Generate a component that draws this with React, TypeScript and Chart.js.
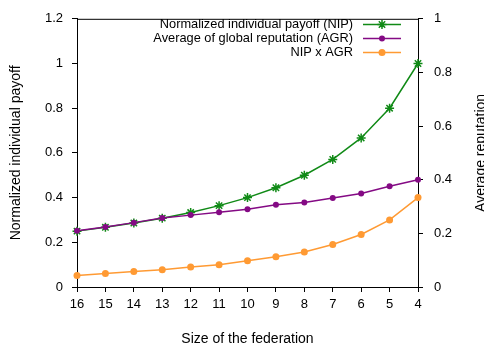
import React, { useEffect, useRef } from "react";
import { Chart, registerables } from "chart.js";

Chart.register(...registerables);

const categories = ["16", "15", "14", "13", "12", "11", "10", "9", "8", "7", "6", "5", "4"];
const nip = [0.25, 0.267, 0.286, 0.308, 0.333, 0.364, 0.4, 0.444, 0.5, 0.571, 0.667, 0.8, 1.0];
const agr = [0.21, 0.224, 0.24, 0.257, 0.268, 0.279, 0.29, 0.307, 0.315, 0.332, 0.349, 0.376, 0.4];
const nipAgr = [0.051, 0.06, 0.069, 0.077, 0.089, 0.1, 0.117, 0.135, 0.157, 0.19, 0.235, 0.3, 0.4];

const seriesLabels = ["Normalized individual payoff (NIP)", "Average of global reputation (AGR)", "NIP x AGR"];
const xTitle = "Size of the federation";
const yTitle = "Normalized individual payoff";
const y1Title = "Average reputation";

const FONT = "'Liberation Sans', Arial, Helvetica, sans-serif";
const GREEN = "#108a16";
const PURPLE = "#840a84";
const ORANGE = "#ff9a33";

const fmt = (v: any) => String(parseFloat(Number(v).toFixed(2)));

function drawMarker(ctx: CanvasRenderingContext2D, style: string, x: number, y: number, r: number, color: string) {
  ctx.save();
  ctx.strokeStyle = color;
  ctx.fillStyle = color;
  ctx.lineWidth = 1.5;
  if (style === "star") {
    ctx.beginPath();
    ctx.moveTo(x - r, y); ctx.lineTo(x + r, y);
    ctx.moveTo(x, y - r); ctx.lineTo(x, y + r);
    const d = r * Math.SQRT1_2;
    ctx.moveTo(x - d, y - d); ctx.lineTo(x + d, y + d);
    ctx.moveTo(x - d, y + d); ctx.lineTo(x + d, y - d);
    ctx.stroke();
  } else {
    ctx.beginPath();
    ctx.arc(x, y, r, 0, Math.PI * 2);
    ctx.fill();
  }
  ctx.restore();
}

const decorPlugin = {
  id: "decor",
  afterDraw(chart: any) {
    const { ctx, chartArea } = chart;
    ctx.save();
    ctx.strokeStyle = "#000";
    ctx.lineWidth = 1;
    ctx.beginPath();
    ctx.moveTo(chartArea.left, chartArea.top + 0.5);
    ctx.lineTo(chartArea.right, chartArea.top + 0.5);
    ctx.stroke();

    ctx.fillStyle = "#000";
    ctx.font = `14px ${FONT}`;
    ctx.textAlign = "center";
    ctx.textBaseline = "middle";
    const cy = (chartArea.top + chartArea.bottom) / 2;
    ctx.save();
    ctx.translate(16.5, cy);
    ctx.rotate(-Math.PI / 2);
    ctx.fillText(yTitle, 0, 0);
    ctx.restore();
    ctx.save();
    ctx.translate(481.5, cy);
    ctx.rotate(-Math.PI / 2);
    ctx.fillText(y1Title, 0, 0);
    ctx.restore();
    ctx.fillText(xTitle, (chartArea.left + chartArea.right) / 2, 339);

    const colors = [GREEN, PURPLE, ORANGE];
    const styles = ["star", "circle", "circle"];
    const radii = [4.5, 3, 3.5];
    const rows = [24.5, 38.5, 52.5];
    ctx.font = `12.8px ${FONT}`;
    ctx.textAlign = "right";
    for (let i = 0; i < 3; i++) {
      const y = rows[i];
      ctx.fillStyle = "#000";
      ctx.fillText(seriesLabels[i], 353, y);
      ctx.strokeStyle = colors[i];
      ctx.lineWidth = 1.5;
      ctx.beginPath();
      ctx.moveTo(363, y);
      ctx.lineTo(401, y);
      ctx.stroke();
      drawMarker(ctx, styles[i], 382, y, radii[i], colors[i]);
    }
    ctx.restore();
  },
};

export default function App() {
  const ref = useRef<HTMLCanvasElement | null>(null);
  useEffect(() => {
    if (!ref.current) return;
    Chart.defaults.font.family = FONT;
    const axisCommon = {
      grid: { drawOnChartArea: false, drawTicks: true, tickLength: 5, color: "#000", lineWidth: 1 },
      border: { color: "#000", width: 1 },
    };
    const chart = new Chart(ref.current, {
      type: "line",
      data: {
        labels: categories,
        datasets: [
          {
            label: seriesLabels[0],
            data: nip,
            yAxisID: "y",
            borderColor: GREEN,
            backgroundColor: GREEN,
            borderWidth: 1.5,
            pointStyle: "star",
            pointRadius: 4.5,
            pointBorderWidth: 1.5,
            pointBorderColor: GREEN,
            tension: 0,
            clip: false,
            order: 3,
          },
          {
            label: seriesLabels[1],
            data: agr,
            yAxisID: "y1",
            borderColor: PURPLE,
            backgroundColor: PURPLE,
            borderWidth: 1.5,
            pointStyle: "circle",
            pointRadius: 3,
            pointBorderWidth: 0,
            tension: 0,
            clip: false,
            order: 2,
          },
          {
            label: seriesLabels[2],
            data: nipAgr,
            yAxisID: "y",
            borderColor: ORANGE,
            backgroundColor: ORANGE,
            borderWidth: 1.5,
            pointStyle: "circle",
            pointRadius: 3.5,
            pointBorderWidth: 0,
            tension: 0,
            clip: false,
            order: 1,
          },
        ],
      },
      options: {
        responsive: false,
        animation: false,
        layout: { padding: { top: 12, left: 0, right: 0, bottom: 0 } },
        plugins: { legend: { display: false }, tooltip: { enabled: false } },
        scales: {
          x: {
            type: "category",
            offset: false,
            ...axisCommon,
            ticks: { color: "#000", font: { size: 13 }, padding: 5, maxRotation: 0, autoSkip: false },
            afterFit: (s: any) => { s.height = 65; },
          },
          y: {
            position: "left",
            min: 0,
            max: 1.2,
            ...axisCommon,
            ticks: { color: "#000", font: { size: 13 }, padding: 9, stepSize: 0.2, callback: fmt },
            afterFit: (s: any) => { s.width = 77; },
          },
          y1: {
            position: "right",
            min: 0,
            max: 1,
            ...axisCommon,
            ticks: { color: "#000", font: { size: 13 }, padding: 11, stepSize: 0.2, callback: fmt },
            afterFit: (s: any) => { s.width = 66; },
          },
        },
      },
      plugins: [decorPlugin],
    });
    return () => chart.destroy();
  }, []);
  return (
    <div style={{ position: "fixed", left: 0, top: 0, width: 484, height: 352, background: "#fff", overflow: "hidden" }}>
      <canvas ref={ref} width={484} height={352} style={{ width: 484, height: 352, display: "block" }} />
    </div>
  );
}
